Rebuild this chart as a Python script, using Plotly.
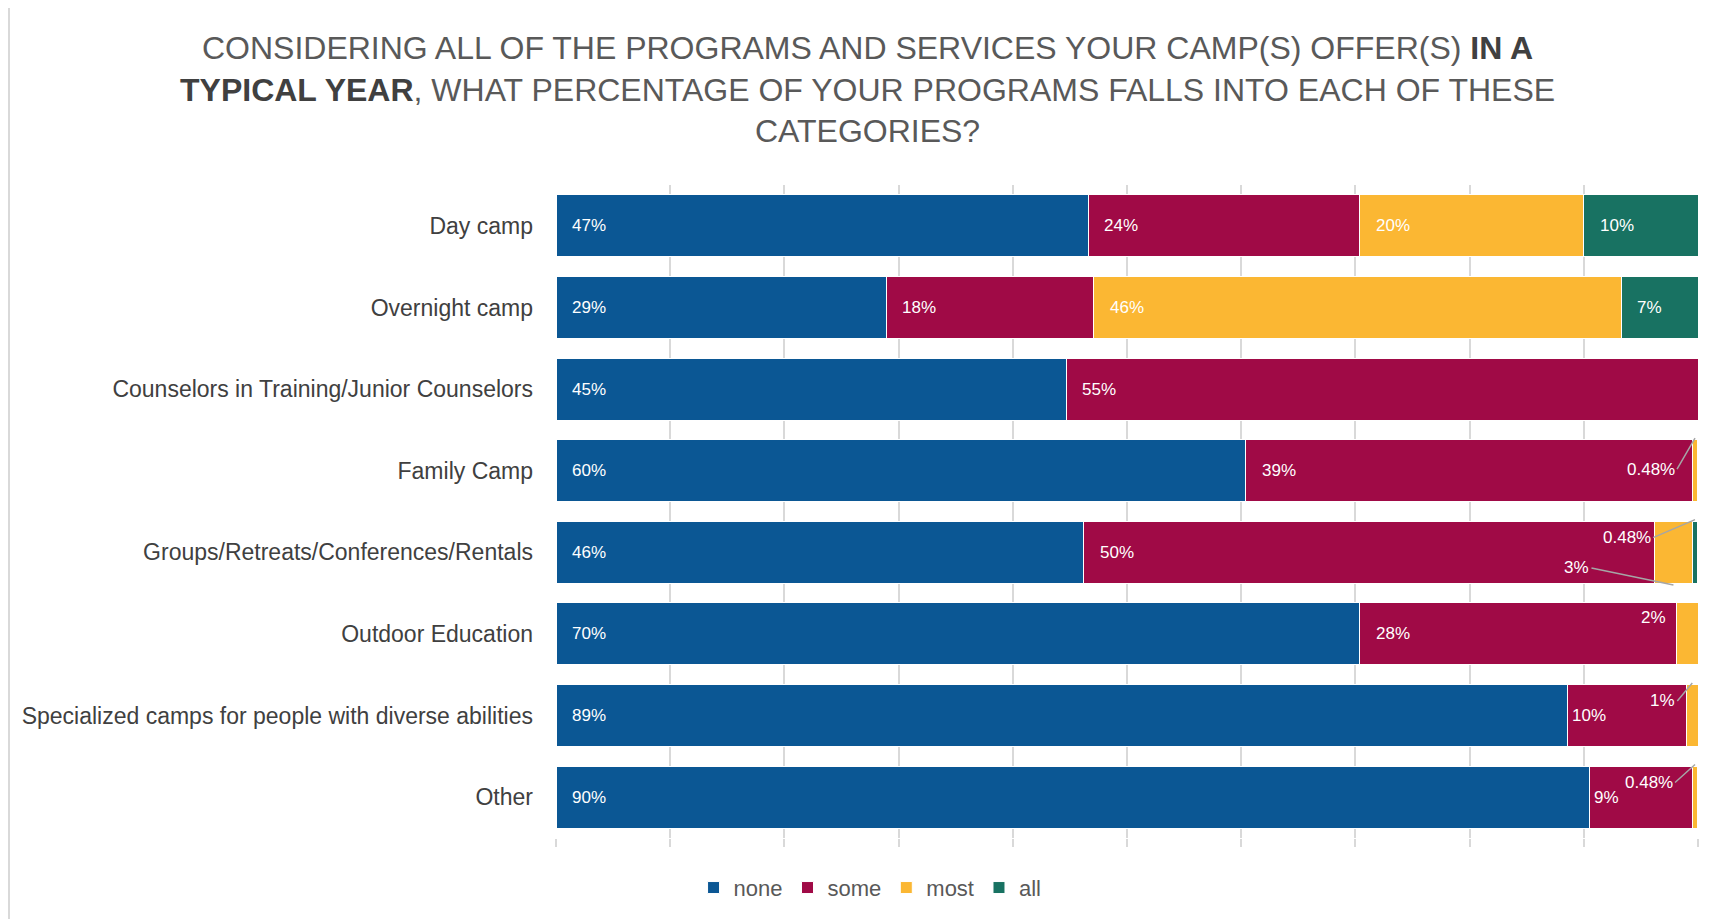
import plotly.graph_objects as go

categories = ["Day camp", "Overnight camp", "Counselors in Training/Junior Counselors",
              "Family Camp", "Groups/Retreats/Conferences/Rentals", "Outdoor Education",
              "Specialized camps for people with diverse abilities", "Other"]
none_vals = [46.6, 28.9, 44.7, 60.4, 46.2, 70.4, 88.6, 90.5]
some_vals = [23.8, 18.2, 55.3, 39.1, 50.0, 27.7, 10.4, 9.0]
most_vals = [19.6, 46.2, 0.0, 0.48, 3.3, 1.9, 1.0, 0.48]
all_vals = [10.0, 6.7, 0.0, 0.0, 0.48, 0.0, 0.0, 0.0]

none_lbl = ["47%", "29%", "45%", "60%", "46%", "70%", "89%", "90%"]
some_lbl = ["24%", "18%", "55%", "39%", "50%", "28%", "10%", "9%"]
most_lbl = ["20%", "46%", "", "0.48%", "3%", "2%", "1%", "0.48%"]
all_lbl = ["10%", "7%", "", "", "0.48%", "", "", ""]

series = [("none", none_vals, none_lbl, "#0B5794"),
          ("some", some_vals, some_lbl, "#A00A46"),
          ("most", most_vals, most_lbl, "#FBB733"),
          ("all", all_vals, all_lbl, "#187262")]

FONT = "Liberation Sans"
fig = go.Figure()
for name, vals, _, col in series:
    fig.add_trace(go.Bar(y=categories, x=vals, name=name, orientation="h",
                         marker=dict(color=col, line=dict(color="white", width=1)),
                         hoverinfo="x+name"))

annos = []
# labels inside segments, anchored at segment start
starts = [0.0] * len(categories)
for name, vals, lbls, col in series:
    for i, (v, t) in enumerate(zip(vals, lbls)):
        s = starts[i]
        starts[i] += v
        if not t or v < 5:
            continue
        shift = 2 if v < 12 and name == "some" and i >= 6 else 14
        annos.append(dict(x=s, y=i, text=t, showarrow=False, xanchor="left",
                          xshift=shift, font=dict(color="white", size=17, family=FONT)))

# small segments with leader lines
leaders = [  # (row, series index, dx, dy, side)
    (3, 2, -18, 31, -0.4),
    (4, 3, -42, 18, -0.4),
    (4, 2, -82, -17, 0.4),
    (6, 2, -15, 18, -0.4),
    (7, 2, -20, 18, -0.4),
]
for row, si, dx, dy, side in leaders:
    vals = series[si][1]
    base = sum(series[k][1][row] for k in range(si))
    annos.append(dict(x=base + vals[row] / 2, y=row + side, ax=dx, ay=dy,
                      text=series[si][2][row], showarrow=True, arrowhead=0,
                      arrowwidth=1.5, arrowcolor="#A6A6A6", xanchor="right",
                      font=dict(color="white", size=17, family=FONT)))
# outdoor education 2% label without a leader
annos.append(dict(x=none_vals[5] + some_vals[5], y=5 - 0.2, text=most_lbl[5],
                  showarrow=False, xanchor="right", xshift=-8,
                  font=dict(color="white", size=17, family=FONT)))

title = ("CONSIDERING ALL OF THE PROGRAMS AND SERVICES YOUR CAMP(S) OFFER(S) "
         "<b style='color:#404040'>IN A</b><br><b style='color:#404040'>TYPICAL YEAR</b>, "
         "WHAT PERCENTAGE OF YOUR PROGRAMS FALLS INTO EACH OF THESE<br>CATEGORIES?")
annos.append(dict(text=title, xref="paper", yref="paper", x=0.273, y=1.146,
                  xanchor="center", yanchor="middle", align="center", showarrow=False,
                  font=dict(family=FONT, size=32, color="#595959")))

fig.update_layout(
    barmode="stack", bargap=0.24,
    width=1722, height=919,
    margin=dict(l=548, r=32, t=177, b=89),
    paper_bgcolor="white", plot_bgcolor="white",
    font=dict(family=FONT, color="#595959"),
    xaxis=dict(range=[0, 100], dtick=10, showticklabels=False, showgrid=True,
               gridcolor="#D9D9D9", gridwidth=1.5, zeroline=False,
               ticks="outside", ticklen=8, tickcolor="#D9D9D9", tickwidth=1.5),
    yaxis=dict(autorange="reversed", tickfont=dict(size=23, color="#404040", family=FONT),
               ticks="", ticklabelstandoff=22, showgrid=False),
    legend=dict(orientation="h", x=0.275, xanchor="center", y=-0.044, yanchor="top",
                font=dict(size=22, color="#595959", family=FONT), traceorder="normal",
                itemwidth=30),
    annotations=annos,
    shapes=[dict(type="line", xref="paper", yref="paper", x0=-0.479, x1=1.05,
                 y0=1.275, y1=1.275, line=dict(color="#D9D9D9", width=2)),
            dict(type="line", xref="paper", yref="paper", x0=-0.479, x1=-0.479,
                 y0=1.275, y1=-0.13, line=dict(color="#D9D9D9", width=2))],
)

fig.write_html("out.html")
